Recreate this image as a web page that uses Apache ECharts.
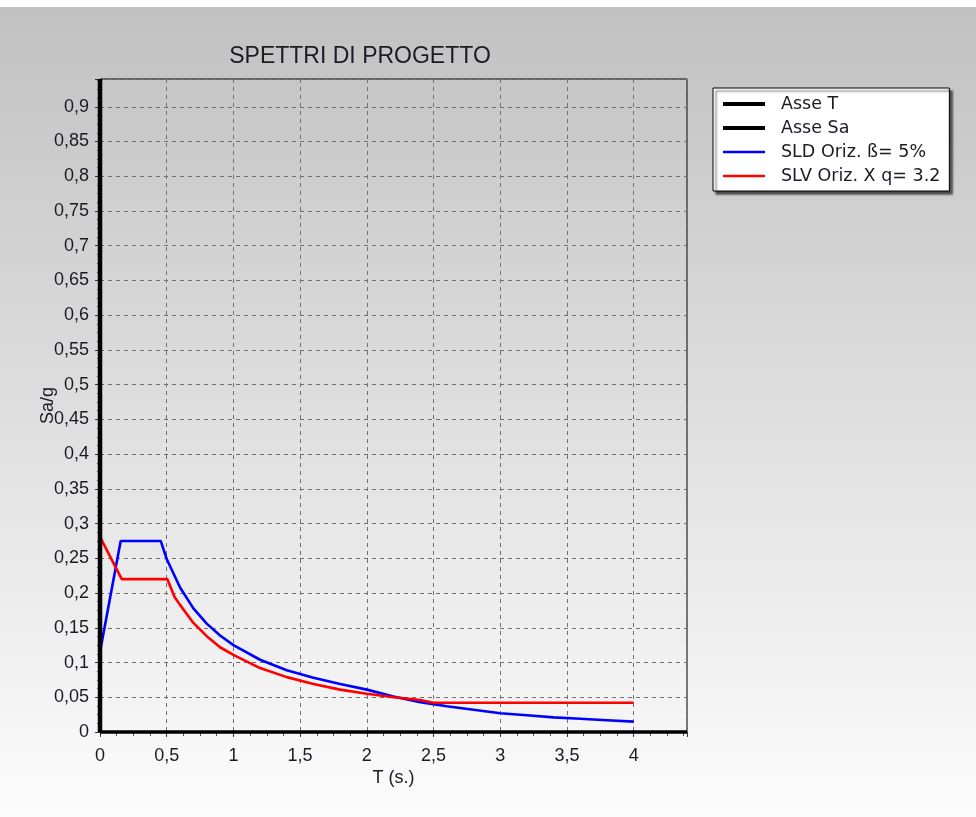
<!DOCTYPE html>
<html>
<head>
<meta charset="utf-8">
<script src="https://cdn.jsdelivr.net/npm/echarts@6/dist/echarts.min.js"></script>
<style>
html,body{margin:0;padding:0;background:#ffffff;}
#chart{position:absolute;left:0;top:7px;width:976px;height:810px;}
</style>
</head>
<body>
<div id="chart"></div>
<script>
// Values
var titleText = "SPETTRI DI PROGETTO";
var xName = "T (s.)";
var yName = "Sa/g";
var legendNames = ["Asse T", "Asse Sa", "SLD Oriz. ß= 5%", "SLV Oriz. X q= 3.2"];

var sldT  = [0, 0.155, 0.455, 0.5, 0.6, 0.7, 0.8, 0.9, 1.0, 1.2, 1.4, 1.6, 1.8, 2.0, 2.2, 2.4, 2.6, 2.8, 3.0, 3.2, 3.4, 3.6, 3.8, 4.0];
var sldSa = [0.115, 0.275, 0.275, 0.249, 0.208, 0.178, 0.156, 0.139, 0.125, 0.104, 0.089, 0.078, 0.069, 0.061, 0.051, 0.043, 0.037, 0.032, 0.027, 0.024, 0.021, 0.019, 0.017, 0.015];

var slvT  = [0, 0.163, 0.505, 0.56, 0.6, 0.7, 0.8, 0.9, 1.0, 1.2, 1.4, 1.6, 1.8, 2.0, 2.2, 2.4, 2.5, 3.0, 3.5, 4.0];
var slvSa = [0.281, 0.22, 0.22, 0.194, 0.183, 0.157, 0.138, 0.122, 0.111, 0.092, 0.079, 0.069, 0.061, 0.055, 0.050, 0.046, 0.042, 0.042, 0.042, 0.042];

var asseTT  = [0, 4.4];
var asseTSa = [0, 0];
var asseSaT  = [0, 0];
var asseSaSa = [0, 0.94];

var xMin = 0, xMax = 4.4, xStep = 0.5;
var yMin = 0, yMax = 0.94, yStep = 0.05;

function pairs(a, b) { return a.map(function (v, i) { return [v, b[i]]; }); }
function fmt(v) { return String(+v.toFixed(3)).replace('.', ','); }

var chart = echarts.init(document.getElementById('chart'), null, {renderer: 'canvas'});
var font = '"Liberation Sans", Arial, sans-serif';
var legendFont = '"DejaVu Sans", Tahoma, sans-serif';
var txt = '#1b1b24';
var colors = ['#000000', '#000000', '#0000ff', '#ff0000'];
var legendWidths = [4, 4, 2.5, 2.5];

chart.setOption({
  animation: false,
  backgroundColor: {
    type: 'linear', x: 0, y: 0, x2: 0, y2: 1,
    colorStops: [{offset: 0, color: '#c1c1c1'}, {offset: 1, color: '#fcfcfc'}]
  },
  title: {
    text: titleText,
    left: 355, top: 33, textAlign: 'center',
    textStyle: {fontFamily: font, fontSize: 23, fontWeight: 'normal', color: txt}
  },
  legend: {
    orient: 'vertical',
    left: 713, top: 81,
    padding: [7, 9, 6, 8],
    itemWidth: 42, itemHeight: 18, itemGap: 6,
    backgroundColor: '#ffffff',
    borderColor: '#000000', borderWidth: 1, borderRadius: 0,
    shadowColor: 'rgba(0,0,0,0.65)', shadowBlur: 2, shadowOffsetX: 3, shadowOffsetY: 3,
    textStyle: {fontFamily: legendFont, fontSize: 17.5, color: txt, padding: [0, 0, 0, 11]},
    itemStyle: {opacity: 0},
    data: legendNames.map(function (n, i) {
      return {name: n, itemStyle: {opacity: 0}, lineStyle: {width: legendWidths[i], color: colors[i]}};
    })
  },
  grid: {
    left: 100, top: 72, right: 289, bottom: 85,
    show: true, borderColor: '#000000', borderWidth: 1, backgroundColor: 'transparent'
  },
  xAxis: {
    type: 'value', min: xMin, max: xMax, interval: xStep,
    name: xName, nameLocation: 'middle', nameGap: 37, nameMoveOverlap: false,
    nameTextStyle: {fontFamily: font, fontSize: 18, color: txt},
    axisLine: {show: false},
    axisTick: {show: true, length: 5, lineStyle: {color: '#333'}},
    minorTick: {show: true, splitNumber: 4, length: 4, lineStyle: {color: '#555'}},
    axisLabel: {
      fontFamily: font, fontSize: 18, color: txt, margin: 15, showMaxLabel: false,
      formatter: function (v) { return (Math.abs(v / xStep - Math.round(v / xStep)) < 1e-6) ? fmt(v) : ''; }
    },
    splitLine: {show: true, lineStyle: {color: '#707070', type: [4, 4], width: 1}}
  },
  yAxis: {
    type: 'value', min: yMin, max: yMax, interval: yStep,
    name: yName, nameLocation: 'middle', nameGap: 43, nameRotate: 90, nameMoveOverlap: false,
    nameTextStyle: {fontFamily: font, fontSize: 18, color: txt},
    axisLine: {show: false},
    axisTick: {show: true, length: 5, lineStyle: {color: '#333'}},
    minorTick: {show: true, splitNumber: 4, length: 3, lineStyle: {color: '#555'}},
    axisLabel: {
      fontFamily: font, fontSize: 18, color: txt, margin: 11, showMaxLabel: false,
      formatter: function (v) { return (Math.abs(v / yStep - Math.round(v / yStep)) < 1e-6) ? fmt(v) : ''; }
    },
    splitLine: {show: true, lineStyle: {color: '#707070', type: [4, 4], width: 1}}
  },
  series: [
    {name: legendNames[0], type: 'line', data: pairs(asseTT, asseTSa), symbol: 'none', clip: false,
     lineStyle: {color: colors[0], width: 3.5}, itemStyle: {color: colors[0]}, z: 5},
    {name: legendNames[1], type: 'line', data: pairs(asseSaT, asseSaSa), symbol: 'none', clip: false,
     lineStyle: {color: colors[1], width: 4.5}, itemStyle: {color: colors[1]}, z: 5},
    {name: legendNames[2], type: 'line', data: pairs(sldT, sldSa), symbol: 'none',
     lineStyle: {color: colors[2], width: 2.6}, itemStyle: {color: colors[2]}, z: 3},
    {name: legendNames[3], type: 'line', data: pairs(slvT, slvSa), symbol: 'none',
     lineStyle: {color: colors[3], width: 2.6}, itemStyle: {color: colors[3]}, z: 4}
  ]
});
</script>
</body>
</html>
